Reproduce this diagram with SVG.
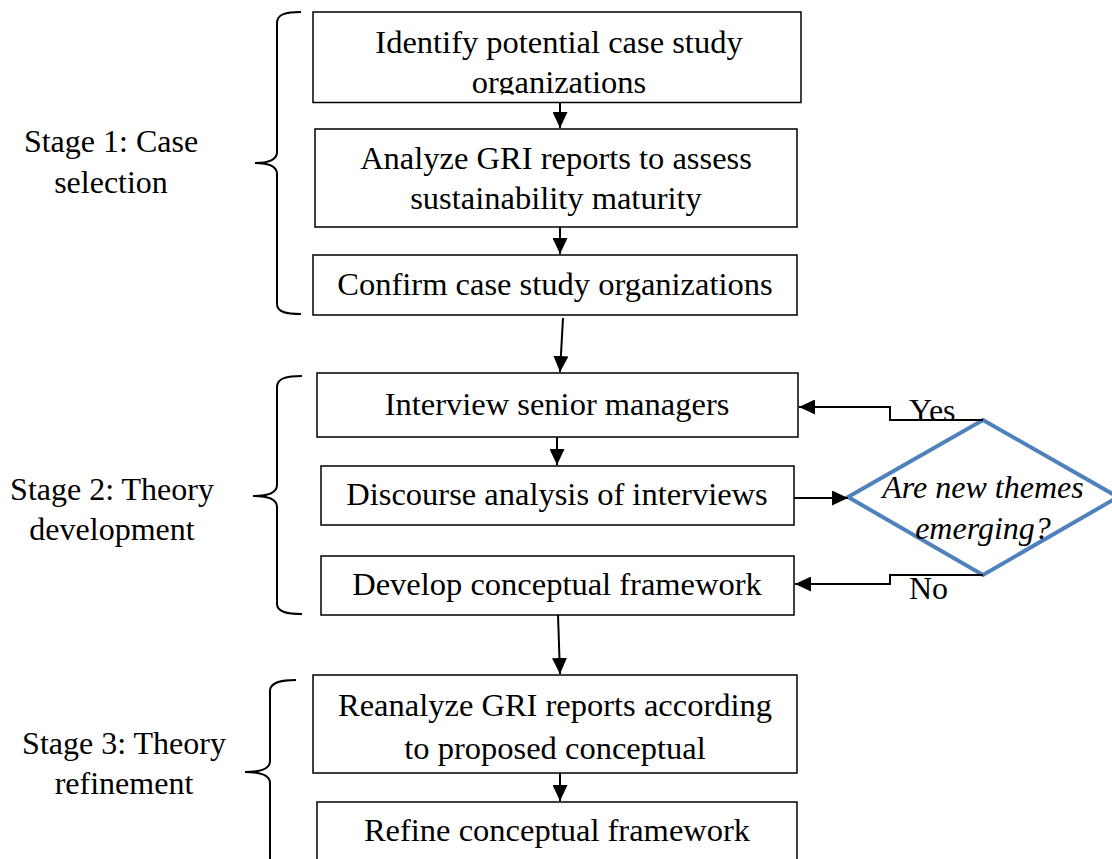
<svg xmlns="http://www.w3.org/2000/svg" width="1112" height="859" viewBox="0 0 1112 859">
<style>
.box{fill:#fff;stroke:#000;stroke-width:1.5}
.t{font-family:"Liberation Serif","Times New Roman",serif;font-size:32.5px;fill:#000;text-anchor:middle}
.ts{font-family:"Liberation Serif","Times New Roman",serif;font-size:32px;fill:#000;text-anchor:middle}
.ti{font-family:"Liberation Serif","Times New Roman",serif;font-size:32px;fill:#000;text-anchor:middle;font-style:italic}
.tl{font-family:"Liberation Serif","Times New Roman",serif;font-size:32px;fill:#000}
.c{fill:none;stroke:#000;stroke-width:2}
.brace{fill:none;stroke:#000;stroke-width:2}
.dia{fill:none;stroke:#4f81bd;stroke-width:4}
</style>
<defs>
<marker id="ah" markerUnits="userSpaceOnUse" markerWidth="17" markerHeight="15" refX="16" refY="7.5" orient="auto">
<path d="M0,0 L16,7.5 L0,15 Z" fill="#000"/>
</marker>
<clipPath id="clip1"><rect x="313" y="12" width="488" height="82.5"/></clipPath>
</defs>
<rect width="1112" height="859" fill="#fff"/>

<g id="stage1-label">
<text class="ts" x="111" y="152">Stage 1: Case</text>
<text class="ts" x="111" y="193">selection</text>
<path class="brace" d="M301,12 C286,12 277,14 277,23 L277,152 C277,159 270,163 255,163 C270,163 277,167 277,174 L277,304 C277,312 286,314 301,314"/>
</g>
<g id="stage2-label">
<text class="ts" x="112" y="500">Stage 2: Theory</text>
<text class="ts" x="112" y="540">development</text>
<path class="brace" d="M302,376 C287,376 277,378 277,387 L277,485 C277,492 270,496 253,496 C270,496 277,500 277,507 L277,604 C277,612 287,614 302,614"/>
</g>
<g id="stage3-label">
<text class="ts" x="124" y="754">Stage 3: Theory</text>
<text class="ts" x="124" y="794">refinement</text>
<path class="brace" d="M296,680 C281,680 270,682 270,691 L270,761 C270,768 263,772 245,772 C263,772 270,776 270,783 L270,870"/>
</g>

<g id="n1">
<rect class="box" x="313" y="12" width="488" height="90.5"/>
<g clip-path="url(#clip1)">
<text class="t" x="559" y="53">Identify potential case study</text>
<text class="t" x="559" y="93">organizations</text>
</g>
</g>
<g id="n2">
<rect class="box" x="315" y="129" width="482" height="98"/>
<text class="t" x="556" y="169">Analyze GRI reports to assess</text>
<text class="t" x="556" y="209">sustainability maturity</text>
</g>
<g id="n3">
<rect class="box" x="313" y="255" width="484" height="60"/>
<text class="t" x="555" y="295">Confirm case study organizations</text>
</g>
<g id="n4">
<rect class="box" x="317" y="373" width="481" height="64"/>
<text class="t" x="557" y="415">Interview senior managers</text>
</g>
<g id="n5">
<rect class="box" x="321" y="466" width="473" height="59"/>
<text class="t" x="557" y="505">Discourse analysis of interviews</text>
</g>
<g id="n6">
<rect class="box" x="321" y="556" width="473" height="59"/>
<text class="t" x="557" y="595">Develop conceptual framework</text>
</g>
<g id="n7">
<rect class="box" x="313" y="675" width="484" height="98"/>
<text class="t" x="555" y="716">Reanalyze GRI reports according</text>
<text class="t" x="555" y="759">to proposed conceptual</text>
</g>
<g id="n8">
<rect class="box" x="317" y="802" width="480" height="80"/>
<text class="t" x="557" y="841">Refine conceptual framework</text>
</g>
<g id="decision">
<polygon class="dia" points="983,420 1118,497 983,575 848,497"/>
<text class="ti" x="983" y="498">Are new themes</text>
<text class="ti" x="983" y="539">emerging?</text>
</g>

<g id="connectors">
<line class="c" x1="560" y1="103" x2="560" y2="128" marker-end="url(#ah)"/>
<line class="c" x1="560" y1="227" x2="560" y2="254" marker-end="url(#ah)"/>
<line class="c" x1="563" y1="318" x2="560" y2="372" marker-end="url(#ah)"/>
<line class="c" x1="557" y1="437" x2="557" y2="465" marker-end="url(#ah)"/>
<line class="c" x1="558" y1="615" x2="560" y2="674" marker-end="url(#ah)"/>
<line class="c" x1="560" y1="773" x2="560" y2="801" marker-end="url(#ah)"/>
<polyline class="c" points="983,420 890,420 890,407 799,407" marker-end="url(#ah)"/>
<line class="c" x1="794" y1="498" x2="848" y2="498" marker-end="url(#ah)"/>
<polyline class="c" points="983,575 890,575 890,584 795,584" marker-end="url(#ah)"/>
<text class="tl" x="909" y="421">Yes</text>
<text class="tl" x="909" y="599">No</text>
</g>
</svg>
